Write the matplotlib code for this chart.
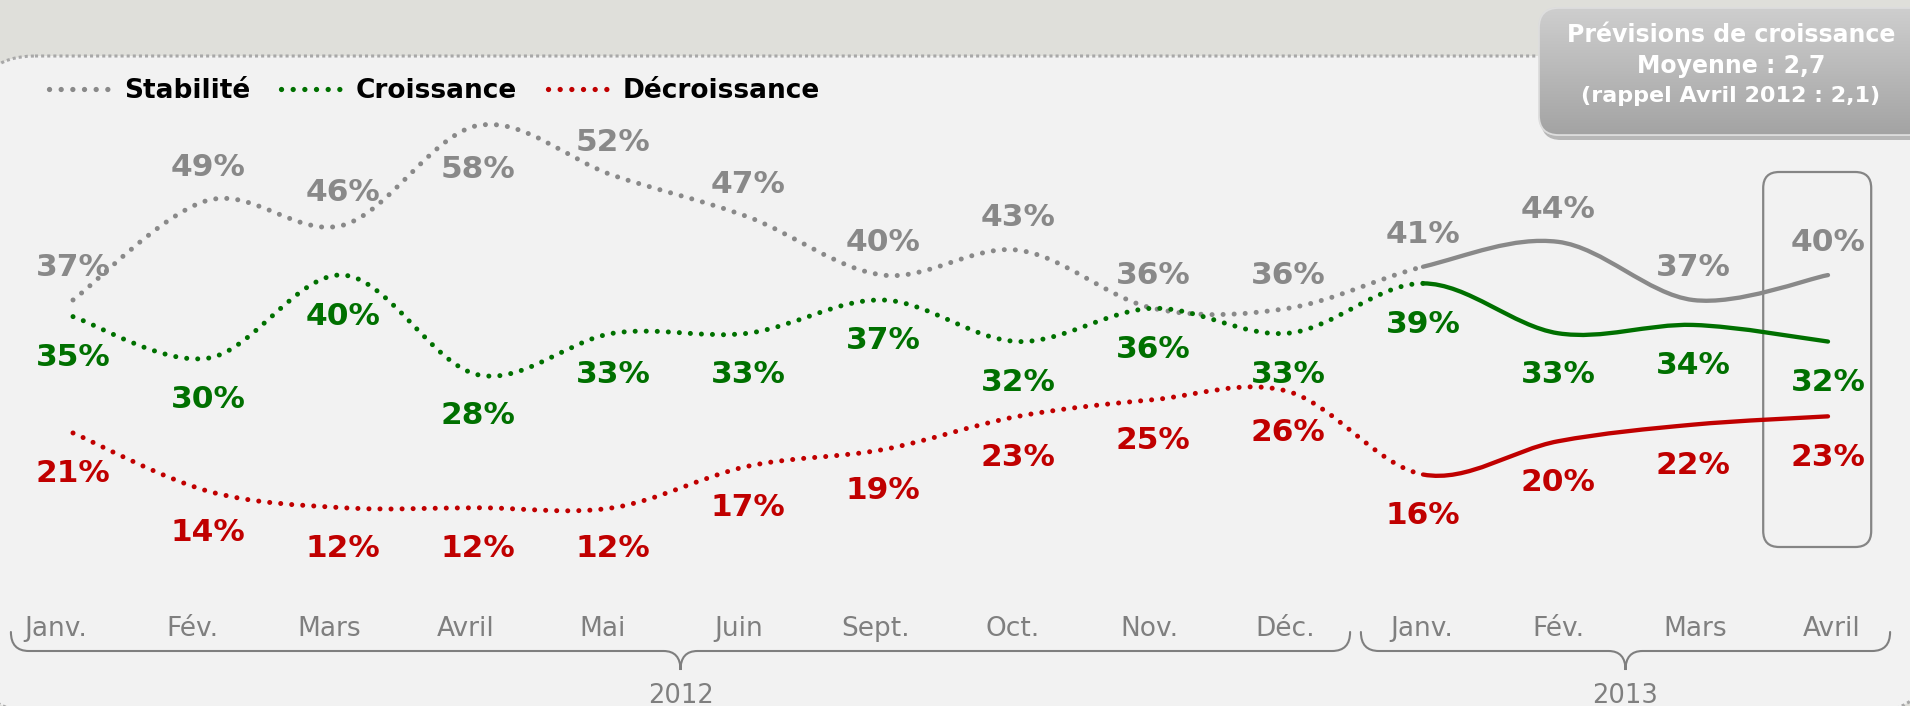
import numpy as np
import matplotlib
matplotlib.use('Agg')
import matplotlib.pyplot as plt
from matplotlib.path import Path
from matplotlib.patches import PathPatch, FancyBboxPatch
from matplotlib.lines import Line2D
import matplotlib.transforms as mtransforms

# ---------------- data ----------------
months = ['Janv.', 'Fév.', 'Mars', 'Avril', 'Mai', 'Juin', 'Sept.', 'Oct.',
          'Nov.', 'Déc.', 'Janv.', 'Fév.', 'Mars', 'Avril']
years = ['2012', '2013']
year_spans = [(0, 9), (10, 13)]
stabilite = [37, 49, 46, 58, 52, 47, 40, 43, 36, 36, 41, 44, 37, 40]
croissance = [35, 30, 40, 28, 33, 33, 37, 32, 36, 33, 39, 33, 34, 32]
decroissance = [21, 14, 12, 12, 12, 17, 19, 23, 25, 26, 16, 20, 22, 23]
series_names = ['Stabilité', 'Croissance', 'Décroissance']
box_lines = ['Prévisions de croissance', 'Moyenne : 2,7', '(rappel Avril 2012 : 2,1)']
solid_from = 10          # index where the solid (2013) part starts
highlight_index = 13     # last month framed

# ---------------- style ----------------
plt.rcParams['font.family'] = ['DejaVu Sans']
COL = ['#898989', '#007000', '#c00000']
TICK_COL = '#7f7f7f'
stab_side = ['above', 'above', 'above', 'below', 'above', 'above', 'above',
             'above', 'above', 'above', 'above', 'above', 'above', 'above']

W, H = 1910, 706
fig = plt.figure(figsize=(W / 100, H / 100), dpi=100, facecolor='#dfdfda')
ax = fig.add_axes([0, 0, 1, 1])
X0, DX = 73.0, 135.0
YREF_PX, YREF_V, PPU = 300.0, 37.0, 8.31
XLIM = (-X0 / DX, (W - X0) / DX)
YLIM = (YREF_V - (H - YREF_PX) / PPU, YREF_V + YREF_PX / PPU)
ax.set_xlim(*XLIM)
ax.set_ylim(*YLIM)
ax.axis('off')

PX = mtransforms.Affine2D().scale(1, -1).translate(0, H)   # top-down pixels
XDATA_YPX = mtransforms.blended_transform_factory(ax.transData, PX)


def xpx(x):
    return ax.transData.transform((x, 0))[0]


# ---------------- panel background ----------------
panel = FancyBboxPatch((-25, 56), 1955, 656,
                       boxstyle='round,pad=0,rounding_size=60',
                       transform=PX, facecolor='#f2f2f2', edgecolor='#a8a8a8',
                       lw=2.2, linestyle=(0, (1, 1)), zorder=-2)
fig.add_artist(panel)


# ---------------- smooth curves ----------------
def smooth_path(xs, ys, a, b):
    n = len(xs)
    verts = [(xs[a], ys[a])]
    codes = [Path.MOVETO]
    for i in range(a, b):
        p0 = np.array((xs[max(i - 1, 0)], ys[max(i - 1, 0)]), float)
        p1 = np.array((xs[i], ys[i]), float)
        p2 = np.array((xs[i + 1], ys[i + 1]), float)
        p3 = np.array((xs[min(i + 2, n - 1)], ys[min(i + 2, n - 1)]), float)
        c1 = p1 + (p2 - p0) / 6.0
        c2 = p2 - (p3 - p1) / 6.0
        verts += [tuple(c1), tuple(c2), tuple(p2)]
        codes += [Path.CURVE4] * 3
    return Path(verts, codes)


all_series = [stabilite, croissance, decroissance]
for k, (vals, col) in enumerate(zip(all_series, COL)):
    xs = np.arange(len(vals))
    dotted = smooth_path(xs, vals, 0, solid_from)
    solid = smooth_path(xs, vals, solid_from, len(vals) - 1)
    ax.add_patch(PathPatch(dotted, fill=False, edgecolor=col, lw=3.6,
                           linestyle=(0, (0.01, 2.2)), capstyle='round',
                           zorder=3 + k))
    ax.add_patch(PathPatch(solid, fill=False, edgecolor=col, lw=3.1,
                           capstyle='round', joinstyle='round', zorder=3 + k))

    for i, v in enumerate(vals):
        if k == 0:
            off = 17.3 if stab_side[i] == 'above' else -37.7
        else:
            off = -35.6
        ax.annotate(f'{v}%', (i, v), xytext=(0, off), textcoords='offset points',
                    ha='center', va='baseline', fontsize=22.5,
                    fontweight='bold', color=col, zorder=8)

# ---------------- highlight frame around last month ----------------
hx0, hx1 = xpx(highlight_index - 0.48), xpx(highlight_index + 0.32)
frame = FancyBboxPatch((hx0, 172), hx1 - hx0, 375,
                       boxstyle='round,pad=0,rounding_size=16', transform=PX,
                       facecolor='none', edgecolor='#858585', lw=1.6, zorder=2)
ax.add_artist(frame)

# ---------------- month labels ----------------
for i, m in enumerate(months):
    lx = -0.126 + 1.012 * i
    ax.text(lx, 636, m, transform=XDATA_YPX, ha='center', va='baseline',
            fontsize=19, color=TICK_COL)


# ---------------- year braces ----------------
def brace(xa, xb, xc, top=632, mid=651, tip=670, r=18, w=17):
    verts = [(xa, top), (xa, mid), (xa + r, mid), (xc - w, mid),
             (xc, mid), (xc, tip), (xc, mid), (xc + w, mid),
             (xb - r, mid), (xb, mid), (xb, top)]
    codes = [Path.MOVETO, Path.CURVE3, Path.CURVE3, Path.LINETO,
             Path.CURVE3, Path.CURVE3, Path.CURVE3, Path.CURVE3,
             Path.LINETO, Path.CURVE3, Path.CURVE3]
    return Path(verts, codes)


for yr, (a, b) in zip(years, year_spans):
    xa, xb = xpx(a - 0.46), xpx(b + 0.46)
    xc = xpx((a + b) / 2)
    ax.add_patch(PathPatch(brace(xa, xb, xc), transform=PX, fill=False,
                           edgecolor=TICK_COL, lw=1.5, capstyle='round'))
    ax.text((a + b) / 2, 683, yr, transform=XDATA_YPX, ha='center', va='top',
            fontsize=18.5, color=TICK_COL)

# ---------------- legend ----------------
handles = [Line2D([], [], color=c, lw=3.8, linestyle=(0, (0.01, 2.2)),
                  dash_capstyle='round') for c in COL]
fig.legend(handles, series_names, loc='center left',
           bbox_to_anchor=(49 / W, 1 - 91 / H), ncol=3, frameon=False,
           prop={'weight': 'bold', 'size': 19}, handlelength=2.27,
           handletextpad=0.57, columnspacing=1.17, borderpad=0,
           borderaxespad=0)

# ---------------- top-right info box ----------------
bx, by, bw, bh = 1539, 8, 390, 127
shadow = FancyBboxPatch((bx + 2, by + 5), bw, bh,
                        boxstyle='round,pad=0,rounding_size=20', transform=PX,
                        facecolor='#6f6f6f', edgecolor='none', alpha=0.45,
                        zorder=9)
ax.add_artist(shadow)
box = FancyBboxPatch((bx, by), bw, bh, boxstyle='round,pad=0,rounding_size=20',
                     transform=PX, facecolor='#b9b9b9', edgecolor='#dadada',
                     lw=1.2, zorder=10)
ax.add_artist(box)
grad = np.linspace(0, 1, 128).reshape(-1, 1)
c_top = np.array([0.81, 0.81, 0.81])
c_bot = np.array([0.64, 0.64, 0.64])
img = c_top[None, None, :] * (1 - grad[:, :, None]) + c_bot[None, None, :] * grad[:, :, None]
inv = ax.transData.inverted()
(ex0, ey0) = inv.transform(PX.transform((bx, by + bh)))
(ex1, ey1) = inv.transform(PX.transform((bx + bw, by)))
im = ax.imshow(img, extent=(ex0, ex1, ey0, ey1), aspect='auto', zorder=10.5,
               origin='upper', interpolation='bilinear')
im.set_clip_path(box)
box_edge = FancyBboxPatch((bx, by), bw, bh, boxstyle='round,pad=0,rounding_size=20',
                          transform=PX, facecolor='none', edgecolor='#dedede',
                          lw=1.2, zorder=10.6)
ax.add_artist(box_edge)
for txt, base, fs in zip(box_lines, [42, 73, 102], [17, 17, 16]):
    ax.text(1731, base, txt, transform=PX, ha='center', va='baseline',
            fontsize=fs, fontweight='bold', color='white', zorder=11)

ax.set_xlim(*XLIM)
ax.set_ylim(*YLIM)
fig.savefig('out.png', dpi=100, facecolor=fig.get_facecolor())
